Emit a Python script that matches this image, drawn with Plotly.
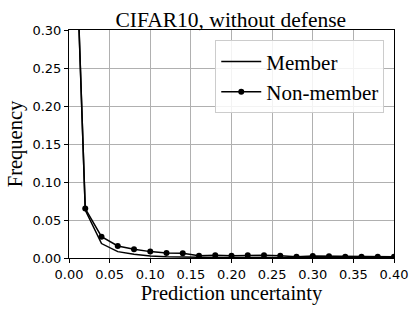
import plotly.graph_objects as go

x_vals = [0.00, 0.02, 0.04, 0.06, 0.08, 0.10, 0.12, 0.14, 0.16, 0.18, 0.20,
          0.22, 0.24, 0.26, 0.28, 0.30, 0.32, 0.34, 0.36, 0.38, 0.40]
member = [0.69, 0.063, 0.019, 0.0084, 0.0049, 0.0026, 0.0015, 0.0010, 0.0008, 0.0007, 0.0007,
          0.0006, 0.0006, 0.0006, 0.0005, 0.0005, 0.0005, 0.0005, 0.0004, 0.0004, 0.0004]
non_member = [0.68, 0.065, 0.028, 0.0158, 0.0114, 0.0084, 0.0066, 0.0064, 0.0030, 0.0035, 0.0030,
              0.0035, 0.0035, 0.0030, 0.0018, 0.0025, 0.0022, 0.0018, 0.0018, 0.0018, 0.0015]

x_ticks = [0.00, 0.05, 0.10, 0.15, 0.20, 0.25, 0.30, 0.35, 0.40]
y_ticks = [0.00, 0.05, 0.10, 0.15, 0.20, 0.25, 0.30]

serif = "Liberation Serif, Times New Roman, serif"
sans = "DejaVu Sans, sans-serif"

fig = go.Figure()
fig.add_trace(go.Scatter(x=x_vals, y=member, mode="lines", name="Member",
                         line=dict(color="black", width=1.5), cliponaxis=True))
fig.add_trace(go.Scatter(x=x_vals, y=non_member, mode="lines+markers", name="Non-member",
                         line=dict(color="black", width=1.5),
                         marker=dict(color="black", size=6), cliponaxis=True))

axis_common = dict(showgrid=True, gridcolor="#b0b0b0", gridwidth=1,
                   showline=True, linecolor="black", linewidth=1, mirror=True,
                   ticks="outside", ticklen=4, tickcolor="black", automargin=False,
                   tickfont=dict(family=sans, size=13, color="black"), zeroline=False)

fig.update_layout(
    width=415, height=311,
    margin=dict(l=69, r=21, t=30, b=53),
    paper_bgcolor="white", plot_bgcolor="white",
    title=dict(text="CIFAR10, without defense", x=0.556, xanchor="center",
               y=0.938, yanchor="middle", automargin=False,
               font=dict(family=serif, size=21.5, color="black")),
    xaxis=dict(range=[0, 0.40], tickvals=x_ticks,
               ticktext=[f"{v:.2f}" for v in x_ticks],
               title=dict(text="Prediction uncertainty", standoff=2,
                          font=dict(family=serif, size=20.5, color="black")),
               **axis_common),
    yaxis=dict(range=[0, 0.30], tickvals=y_ticks,
               ticktext=[f"{v:.2f}" for v in y_ticks],
               title=dict(text="Frequency", standoff=4,
                          font=dict(family=serif, size=20.5, color="black")),
               **axis_common),
    legend=dict(x=0.97, y=0.955, xanchor="right", yanchor="top",
                bgcolor="rgba(255,255,255,0.85)", bordercolor="#cccccc", borderwidth=1,
                font=dict(family=serif, size=21, color="black"),
                itemwidth=40, tracegroupgap=0),
    showlegend=True,
)

fig.write_html("out.html", config={"displayModeBar": False},
               post_script="document.body.style.margin='0px';")
